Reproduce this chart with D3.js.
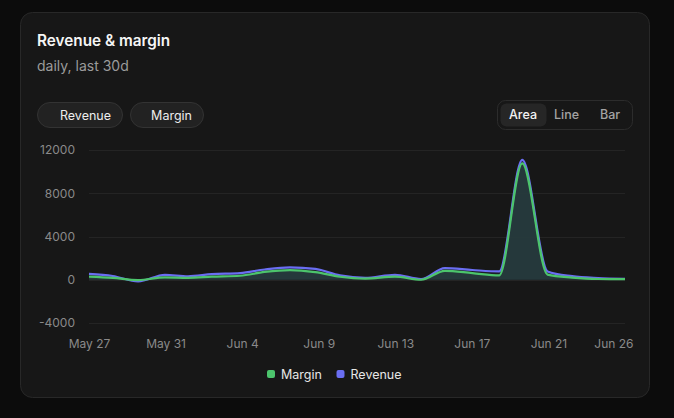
<!DOCTYPE html>
<html>
<head>
<meta charset="utf-8">
<script src="https://cdn.jsdelivr.net/npm/d3@7"></script>
<style>
  html, body { margin: 0; padding: 0; background: #0c0c0c; }
  svg { display: block; font-family: Inter, "Noto Sans", sans-serif; }
</style>
</head>
<body>
<script>

// data (timestamps are irregular, ~1.4 days apart)
const dates = [
  "2024-05-27T05:00", "2024-05-28T13:00", "2024-05-29T23:00", "2024-05-31T11:00",
  "2024-06-01T18:00", "2024-06-03T02:00", "2024-06-04T16:00", "2024-06-06T01:00",
  "2024-06-07T11:00", "2024-06-08T21:00", "2024-06-10T06:00", "2024-06-11T16:00",
  "2024-06-13T08:00", "2024-06-14T19:00", "2024-06-16T03:00", "2024-06-17T16:00",
  "2024-06-19T04:00", "2024-06-20T11:00", "2024-06-21T21:00", "2024-06-23T06:00",
  "2024-06-24T17:00", "2024-06-26T05:00"
];
const revenue = [550, 350, -150, 460, 320, 520, 620, 950, 1140, 1000, 400, 180,
                 460, 60, 1080, 900, 770, 11080, 770, 330, 160, 90];
const margin  = [290, 170, -30, 215, 180, 280, 370, 720, 890, 700, 280, 110,
                 280, 0, 830, 620, 400, 10770, 480, 200, 70, 60];
const yTicks = [-4000, 0, 4000, 8000, 12000];
const NUM_X_TICKS = 8;

const seriesInfo = [
  {key: "margin", label: "Margin", color: "#4cc46c"},
  {key: "revenue", label: "Revenue", color: "#6a6ef2"}
];
const modes = ["Area", "Line", "Bar"];

WIDTH = 674;
HEIGHT = 418;
PLOT = ({top: 150, right: 625, bottom: 323, left: 89});

var parseDate = d3.timeParse("%Y-%m-%dT%H:%M");
var fmt = d3.timeFormat("%b %-d");

var rows = dates.map((d, i) => ({date: parseDate(d), revenue: revenue[i], margin: margin[i]}));

var svg = d3.select("body").append("svg")
    .attr("width", WIDTH)
    .attr("height", HEIGHT);

// card
svg.append("rect")
    .attr("x", 20.5).attr("y", 12.5)
    .attr("width", 629).attr("height", 385)
    .attr("rx", 12)
    .attr("fill", "#171717")
    .attr("stroke", "#282828");

svg.append("text")
    .attr("x", 37).attr("y", 45.5)
    .attr("fill", "#f5f5f5")
    .attr("font-size", 15.3)
    .attr("font-weight", 600)
    .text("Revenue & margin");

svg.append("text")
    .attr("x", 37).attr("y", 71)
    .attr("fill", "#9b9b9b")
    .attr("font-size", 14)
    .text("daily, last 30d");

// series pills
var pills = [{label: "Revenue", x: 37.5, w: 85}, {label: "Margin", x: 130.5, w: 73}];
var pill = svg.selectAll(".pill")
    .data(pills)
  .enter().append("g")
    .attr("class", "pill")
    .attr("transform", d => "translate(" + d.x + ",102.5)");
pill.append("rect")
    .attr("width", d => d.w).attr("height", 25)
    .attr("rx", 12.5)
    .attr("fill", "#222222")
    .attr("stroke", "#333333");
pill.append("text")
    .attr("x", d => d.w - 11.5)
    .attr("y", 17)
    .attr("text-anchor", "end")
    .attr("fill", "#ededed")
    .attr("font-size", 12.5)
    .text(d => d.label);

// chart type toggle
var tg = svg.append("g").attr("transform", "translate(497.5,100.5)");
tg.append("rect")
    .attr("width", 135).attr("height", 29)
    .attr("rx", 8)
    .attr("fill", "#171717")
    .attr("stroke", "#2c2c2c");
tg.append("rect")
    .attr("x", 3).attr("y", 3)
    .attr("width", 46).attr("height", 23)
    .attr("rx", 6)
    .attr("fill", "#262626");
var modeX = d3.scalePoint().domain(modes).range([25.5, 112.5]);
tg.selectAll(".mode")
    .data(modes)
  .enter().append("text")
    .attr("class", "mode")
    .attr("x", d => modeX(d))
    .attr("y", 18.5)
    .attr("text-anchor", "middle")
    .attr("font-size", 12.5)
    .attr("font-weight", 500)
    .attr("fill", (d, i) => i == 0 ? "#f2f2f2" : "#a3a3a3")
    .text(d => d);

// scales
var x = d3.scaleTime()
    .domain(d3.extent(rows, d => d.date))
    .range([PLOT.left, PLOT.right]);

var y = d3.scaleLinear()
    .domain([yTicks[0], yTicks[yTicks.length - 1]])
    .range([PLOT.bottom, PLOT.top]);

// evenly divided ticks over the time domain, like the original
var t0 = x.domain()[0], t1 = x.domain()[1];
var xTicks = d3.range(NUM_X_TICKS).map(i => new Date(+t0 + i * (t1 - t0) / (NUM_X_TICKS - 1)));

// grid
svg.append("g")
    .selectAll("line")
    .data(yTicks)
  .enter().append("line")
    .attr("x1", PLOT.left).attr("x2", PLOT.right)
    .attr("y1", d => Math.round(y(d)) + 0.5)
    .attr("y2", d => Math.round(y(d)) + 0.5)
    .attr("stroke", "#242424");

var yAxis = g => g
    .attr("transform", `translate(${PLOT.left - 14},0)`)
    .call(d3.axisLeft(y).tickValues(yTicks).tickSize(0).tickPadding(0).tickFormat(d => String(d)))
    .call(g => g.select(".domain").remove())
    .call(g => g.selectAll("text")
        .attr("fill", "#8a8a8a")
        .attr("font-size", 12)
        .attr("font-family", "Inter, sans-serif"));
svg.append("g").call(yAxis);

var xAxis = g => g
    .attr("transform", `translate(0,${PLOT.bottom + 16})`)
    .call(d3.axisBottom(x).tickValues(xTicks).tickSize(0).tickPadding(0).tickFormat(fmt))
    .call(g => g.select(".domain").remove())
    .call(g => g.selectAll("text")
        .attr("fill", "#8a8a8a")
        .attr("font-size", 12)
        .attr("font-family", "Inter, sans-serif"))
    // last label gets pushed inward so it stays in the card
    .call(g => g.select(".tick:last-of-type text")
        .attr("text-anchor", "end")
        .attr("x", 8));
svg.append("g").call(xAxis);

// areas + lines
var curve = d3.curveMonotoneX;

var area = key => d3.area()
    .x(d => x(d.date))
    .y0(y(0))
    .y1(d => y(d[key]))
    .curve(curve);

var line = key => d3.line()
    .x(d => x(d.date))
    .y(d => y(d[key]))
    .curve(curve);

svg.append("path")
    .datum(rows)
    .attr("d", area("revenue"))
    .attr("fill", "#6a6ef2")
    .attr("fill-opacity", 0.07);

svg.append("path")
    .datum(rows)
    .attr("d", area("margin"))
    .attr("fill", "#263a3c")
    .attr("fill-opacity", 0.95);

svg.append("path")
    .datum(rows)
    .attr("d", line("revenue"))
    .attr("fill", "none")
    .attr("stroke", "#6a6ef2")
    .attr("stroke-width", 2.2);

svg.append("path")
    .datum(rows)
    .attr("d", line("margin"))
    .attr("fill", "none")
    .attr("stroke", "#4cc46c")
    .attr("stroke-width", 2.2);

// legend
var legend = svg.append("g").attr("transform", "translate(267,374)");
var lx = [0, 69.5];
var item = legend.selectAll(".item")
    .data(seriesInfo)
  .enter().append("g")
    .attr("class", "item")
    .attr("transform", (d, i) => "translate(" + lx[i] + ",0)");
item.append("rect")
    .attr("x", 0).attr("y", -4)
    .attr("width", 8).attr("height", 8)
    .attr("rx", 2)
    .attr("fill", d => d.color);
item.append("text")
    .attr("x", 14).attr("y", 4.5)
    .attr("fill", "#e6e6e6")
    .attr("font-size", 12.5)
    .text(d => d.label);

</script>
</body>
</html>
